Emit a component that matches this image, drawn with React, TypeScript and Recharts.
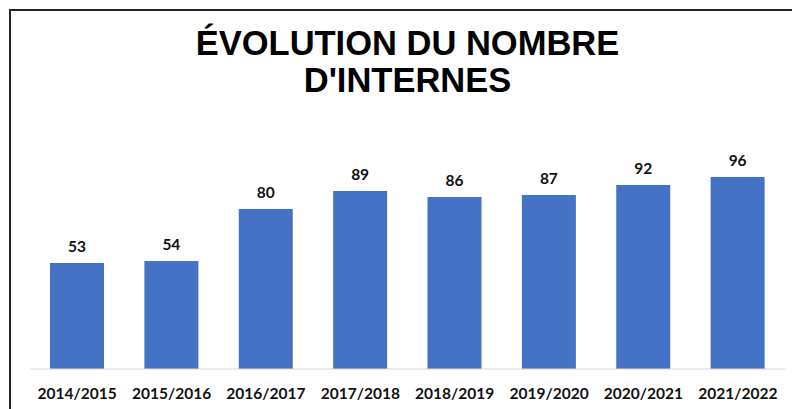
import React from 'react';
import { BarChart, Bar, XAxis, YAxis, LabelList } from 'recharts';

const seasons = [
  '2014/2015',
  '2015/2016',
  '2016/2017',
  '2017/2018',
  '2018/2019',
  '2019/2020',
  '2020/2021',
  '2021/2022',
];
const interns = [53, 54, 80, 89, 86, 87, 92, 96];
const titleLines = ['ÉVOLUTION DU NOMBRE', "D'INTERNES"];

const data = seasons.map((name, i) => ({ name, value: interns[i] }));

const labelFont = 'Lato, "Open Sans", sans-serif';

export default function App() {
  return (
    <div
      style={{
        position: 'absolute',
        top: 0,
        left: 0,
        width: 792,
        height: 409,
        background: '#fff',
        overflow: 'hidden',
      }}
    >
      {/* frame: only top and left edges are visible in the crop */}
      <div
        style={{
          position: 'absolute',
          left: 9,
          top: 9,
          width: 800,
          height: 420,
          borderTop: '2px solid #262626',
          borderLeft: '2px solid #262626',
        }}
      />
      <div
        style={{
          position: 'absolute',
          left: 0,
          top: 25,
          width: 815,
          textAlign: 'center',
          fontFamily: '"Liberation Sans", Arial, sans-serif',
          fontWeight: 700,
          fontSize: 34.5,
          lineHeight: '37px',
          color: '#000',
        }}
      >
        {titleLines.map((line) => (
          <div key={line}>{line}</div>
        ))}
      </div>
      <div style={{ position: 'absolute', left: 0, top: 0 }}>
        <BarChart
          width={792}
          height={409}
          data={data}
          margin={{ top: 129, right: 7, bottom: 10, left: 30 }}
        >
          <XAxis
            dataKey="name"
            height={30}
            tickLine={false}
            tickSize={0}
            tickMargin={19}
            stroke="#d9d9d9"
            interval={0}
            tick={{
              fill: '#111',
              fontSize: 15.5,
              fontWeight: 700,
              fontFamily: labelFont,
            }}
          />
          <YAxis hide domain={[0, 120]} />
          <Bar dataKey="value" fill="#4472C4" barSize={54} isAnimationActive={false}>
            <LabelList
              dataKey="value"
              position="top"
              offset={11}
              fill="#111"
              fontSize={15.5}
              fontWeight={700}
              fontFamily={labelFont}
            />
          </Bar>
        </BarChart>
      </div>
    </div>
  );
}
